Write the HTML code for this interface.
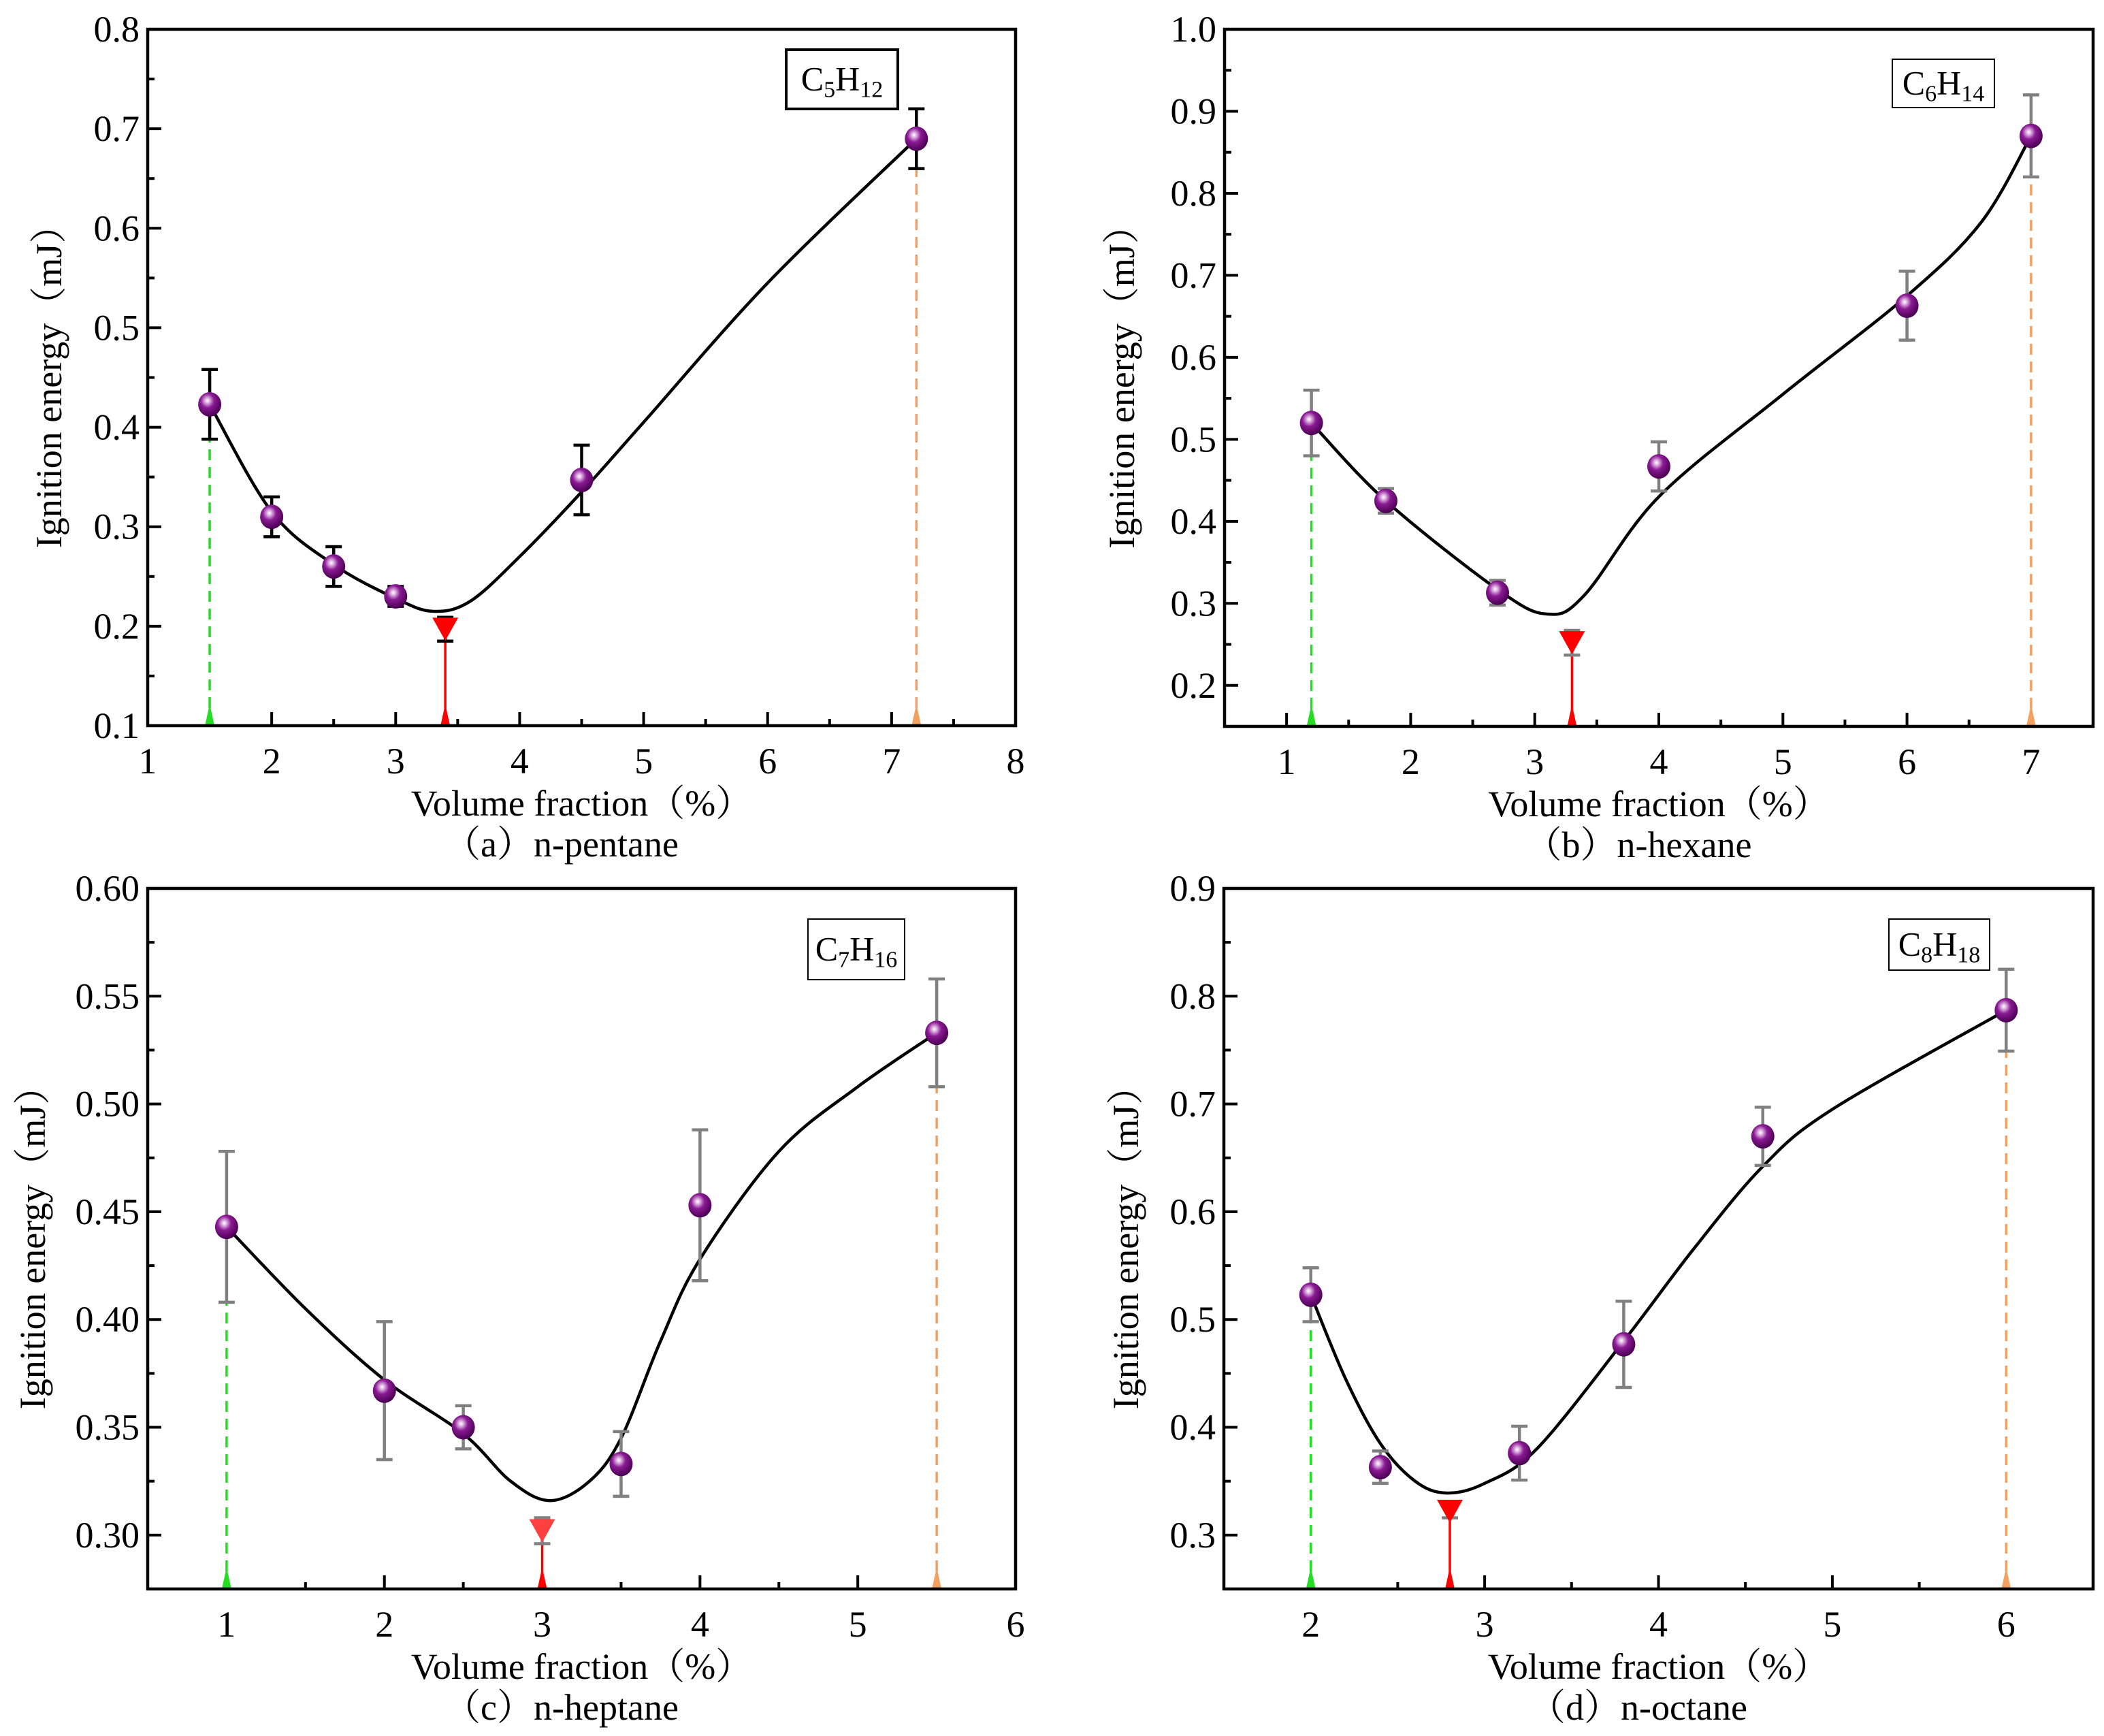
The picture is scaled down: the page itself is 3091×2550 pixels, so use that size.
<!DOCTYPE html>
<html><head><meta charset="utf-8"><style>
html,body{margin:0;padding:0;background:#fff;}
svg{display:block;}
text{font-family:"Liberation Serif","Noto Serif CJK SC",serif;}
</style></head><body>
<svg id="fig" width="3091" height="2550" viewBox="0 0 3091 2550" xmlns="http://www.w3.org/2000/svg" font-family="Liberation Serif, Noto Serif CJK SC, serif">
<defs>
<radialGradient id="ball" cx="0.4" cy="0.35" r="0.65">
<stop offset="0" stop-color="#ffffff"/><stop offset="0.18" stop-color="#d9a6dc"/><stop offset="0.45" stop-color="#8a1a94"/><stop offset="1" stop-color="#4a0052"/>
</radialGradient>
</defs>
</svg>
<script>
// Panel (a) n-pentane
const aX=[1.5,2,2.5,3,4.5,7.2];
const aY=[0.423,0.31,0.26,0.23,0.347,0.69];
const aE=[0.035,0.02,0.02,0.01,0.035,0.03];
const aCurveX=[1.5,2,2.5,3,3.3,3.6,4,4.5,5,6,7.2];
const aCurveY=[0.423,0.315,0.262,0.228,0.215,0.225,0.27,0.335,0.405,0.545,0.69];
const aMin=[3.4,0.197,0.012];
const aXTicks=[1,2,3,4,5,6,7,8];
const aYTicks=[0.1,0.2,0.3,0.4,0.5,0.6,0.7,0.8];
// Panel (b) n-hexane
const bX=[1.2,1.8,2.7,4,6,7];
const bY=[0.52,0.425,0.313,0.467,0.663,0.87];
const bE=[0.04,0.015,0.015,0.03,0.042,0.05];
const bCurveX=[1.2,1.8,2.7,3.1,3.4,4,5,6,6.6,7];
const bCurveY=[0.52,0.425,0.317,0.287,0.31,0.43,0.555,0.675,0.765,0.87];
const bMin=[3.3,0.252,0.015];
const bXTicks=[1,2,3,4,5,6,7];
const bYTicks=[0.2,0.3,0.4,0.5,0.6,0.7,0.8,0.9,1.0];
// Panel (c) n-heptane
const cX=[1,2,2.5,3.5,4,5.5];
const cY=[0.443,0.367,0.35,0.333,0.453,0.533];
const cE=[0.035,0.032,0.01,0.015,0.035,0.025];
const cCurveX=[1,1.5,2,2.5,2.8,3.05,3.3,3.5,3.75,4,4.5,5,5.5];
const cCurveY=[0.443,0.405,0.372,0.347,0.325,0.316,0.325,0.345,0.39,0.428,0.478,0.508,0.533];
const cMin=[3,0.302,0.006];
const cXTicks=[1,2,3,4,5,6];
const cYTicks=[0.30,0.35,0.40,0.45,0.50,0.55,0.60];
// Panel (d) n-octane
const dX=[2,2.4,3.2,3.8,4.6,6];
const dY=[0.523,0.363,0.376,0.477,0.67,0.787];
const dE=[0.025,0.015,0.025,0.04,0.027,0.038];
const dCurveX=[2,2.2,2.4,2.6,2.78,3,3.3,3.8,4.2,4.6,5,6];
const dCurveY=[0.523,0.445,0.385,0.35,0.339,0.348,0.38,0.48,0.565,0.642,0.695,0.787];
const dMin=[2.8,0.322,0.006];
const dXTicks=[2,3,4,5,6];
const dYTicks=[0.3,0.4,0.5,0.6,0.7,0.8,0.9];

const NS='http://www.w3.org/2000/svg';
const svg=document.getElementById('fig');
const FF='"Liberation Serif","Noto Serif CJK SC",serif';
function mk(tag,attrs,parent){const e=document.createElementNS(NS,tag);for(const k in attrs)e.setAttribute(k,attrs[k]);if(tag==='text')e.setAttribute('font-family',FF);(parent||svg).appendChild(e);return e;}

const panels=[
 {id:'a',L:217,R:1492,T:43,B:1066,x0:1,x1:8,y0:0.1,y1:0.8,X:aX,Y:aY,E:aE,CX:aCurveX,CY:aCurveY,M:aMin,xt:aXTicks,yt:aYTicks,dec:1,ebc:'#000',label:['5','12'],box:[1155,73,164,87,4],ytx:72,title:'（a）n-pentane'},
 {id:'b',L:1799,R:3075,T:43,B:1067,x0:0.5,x1:7.5,y0:0.15,y1:1.0,X:bX,Y:bY,E:bE,CX:bCurveX,CY:bCurveY,M:bMin,xt:bXTicks,yt:bYTicks,dec:1,ebc:'#808080',label:['6','14'],box:[2780,87,150,71,2],ytx:1648,title:'（b）n-hexane'},
 {id:'c',L:217,R:1492,T:1305,B:2334,x0:0.5,x1:6,y0:0.275,y1:0.6,X:cX,Y:cY,E:cE,CX:cCurveX,CY:cCurveY,M:cMin,xt:cXTicks,yt:cYTicks,dec:2,ebc:'#808080',label:['7','16'],box:[1187,1350,142,89,2],ytx:48,title:'（c）n-heptane'},
 {id:'d',L:1798,R:3075,T:1305,B:2334,x0:1.5,x1:6.5,y0:0.25,y1:0.9,X:dX,Y:dY,E:dE,CX:dCurveX,CY:dCurveY,M:dMin,xt:dXTicks,yt:dYTicks,dec:1,ebc:'#808080',label:['8','18'],box:[2775,1350,148,75,2],ytx:1654,title:'（d）n-octane'}
];

panels.forEach(p=>{
 const g=mk('g',{});
 
 
 const sx=v=>p.L+(v-p.x0)/(p.x1-p.x0)*(p.R-p.L);
 const sy=v=>p.B-(v-p.y0)/(p.y1-p.y0)*(p.B-p.T);
 const xs=p.xt[1]-p.xt[0];
 for(let v=p.xt[0]-xs/2;v<=p.x1+1e-9;v+=xs/2){
  if(v<p.x0-1e-9)continue;
  const major=Math.abs((v-p.xt[0])/xs-Math.round((v-p.xt[0])/xs))<1e-6;
  const t=mk('line',{x1:sx(v),x2:sx(v),y1:p.B,y2:p.B-(major?20:10),stroke:'#000','stroke-width':4},g);
  
  
 }
 p.xt.forEach(v=>{const t=mk('text',{x:sx(v),y:p.B+70,'font-size':54,'text-anchor':'middle'},g);t.textContent=String(v);
  
  });
 const ys=p.yt[1]-p.yt[0];
 for(let v=p.yt[0]-ys/2;v<=p.y1+1e-9;v+=ys/2){
  if(v<p.y0-1e-9)continue;
  const major=Math.abs((v-p.yt[0])/ys-Math.round((v-p.yt[0])/ys))<1e-6;
  const t=mk('line',{x1:p.L,x2:p.L+(major?20:10),y1:sy(v),y2:sy(v),stroke:'#000','stroke-width':4},g);
  
  
 }
 p.yt.forEach(v=>{const t=mk('text',{x:p.L-12,y:sy(v)+18,'font-size':54,'text-anchor':'end'},g);t.textContent=v.toFixed(p.dec);
  
  });
 const xt=mk('text',{x:(p.L+p.R)/2,y:p.B+132,'font-size':54,'text-anchor':'middle'},g);
 xt.textContent='Volume fraction（%）';
 
 
 const yt=mk('text',{x:0,y:0,'font-size':54,'text-anchor':'middle',transform:`translate(${p.ytx+18},${(p.T+p.B)/2}) rotate(-90)`},g);
 yt.textContent='Ignition energy（mJ）';
 
 
 const st=mk('text',{x:(p.L+p.R)/2-30,y:p.B+192,'font-size':54,'text-anchor':'middle'},g);
 st.textContent=p.title;
 
 
 const gl=mk('line',{x1:sx(p.X[0]),x2:sx(p.X[0]),y1:p.B,y2:sy(p.Y[0]-p.E[0]),stroke:'#22dd22','stroke-width':3.5,'stroke-dasharray':'16 10'},g);
 
 
 const n=p.X.length-1;
 const ol=mk('line',{x1:sx(p.X[n]),x2:sx(p.X[n]),y1:p.B,y2:sy(p.Y[n]-p.E[n]),stroke:'#f4a060','stroke-width':3.5,'stroke-dasharray':'16 10'},g);
 
 
 const rl=mk('line',{x1:sx(p.M[0]),x2:sx(p.M[0]),y1:p.B,y2:sy(p.M[1]),stroke:'#ff0000','stroke-width':3.5},g);
 
 
 [[p.X[0],'#22dd22'],[p.M[0],'#ff0000'],[p.X[n],'#f4a060']].forEach(([v,c])=>{
  const tr=mk('polygon',{points:`${sx(v)-7},${p.B} ${sx(v)+7},${p.B} ${sx(v)},${p.B-32}`,fill:c},g);
  
  
 });
 const pts=p.CX.map((v,i)=>[sx(v),sy(p.CY[i])]);
 let d=`M${pts[0][0]},${pts[0][1]}`;
 for(let i=0;i<pts.length-1;i++){
  const p0=pts[Math.max(0,i-1)],p1=pts[i],p2=pts[i+1],p3=pts[Math.min(pts.length-1,i+2)];
  d+=` C${p1[0]+(p2[0]-p0[0])/6},${p1[1]+(p2[1]-p0[1])/6} ${p2[0]-(p3[0]-p1[0])/6},${p2[1]-(p3[1]-p1[1])/6} ${p2[0]},${p2[1]}`;
 }
 const cv=mk('path',{d:d,fill:'none',stroke:'#000','stroke-width':4.5},g);
 
 
 p.X.forEach((v,i)=>{
  const x=sx(v),y1=sy(p.Y[i]+p.E[i]),y2=sy(p.Y[i]-p.E[i]);
  const eb=mk('path',{d:`M${x},${y1}V${y2}M${x-12},${y1}H${x+12}M${x-12},${y2}H${x+12}`,stroke:p.ebc,'stroke-width':4.5,fill:'none'},g);
  
  
  const c=mk('ellipse',{cx:x,cy:sy(p.Y[i]),rx:17,ry:18,fill:'url(#ball)'},g);
  
  
 });
 const mx=sx(p.M[0]),my=sy(p.M[1]);
 const me=mk('path',{d:`M${mx},${sy(p.M[1]+p.M[2])}V${sy(p.M[1]-p.M[2])}M${mx-12},${sy(p.M[1]+p.M[2])}H${mx+12}M${mx-12},${sy(p.M[1]-p.M[2])}H${mx+12}`,stroke:p.ebc,'stroke-width':4.5,fill:'none'},g);
 
 
 const mt=mk('polygon',{points:`${mx-19},${my-17} ${mx+19},${my-17} ${mx},${my+17}`,fill:p.id==='c'?'#ff4040':'#ff0000'},g);
 
 
 const fr=mk('rect',{x:p.L,y:p.T,width:p.R-p.L,height:p.B-p.T,fill:'none',stroke:'#000','stroke-width':4.5},g);
 
 
 const [bx,by,bw,bh,bs]=p.box;
 const lb=mk('rect',{x:bx,y:by,width:bw,height:bh,fill:'#fff',stroke:'#000','stroke-width':bs},g);
 
 
 const lt=mk('text',{x:bx+bw/2,y:by+bh/2+16,'font-size':50,'text-anchor':'middle'},g);
 
 
 lt.innerHTML=`C<tspan font-size="34" dy="10">${p.label[0]}</tspan><tspan dy="-10">H</tspan><tspan font-size="34" dy="10">${p.label[1]}</tspan>`;
});
</script>
</body></html>
